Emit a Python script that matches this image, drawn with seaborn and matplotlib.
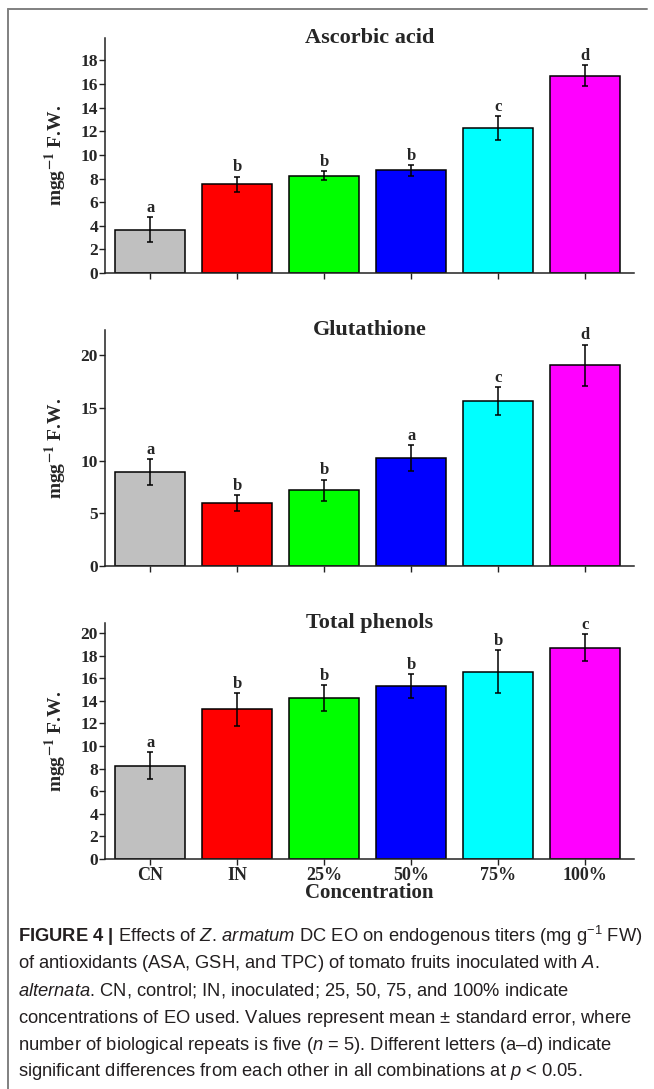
import numpy as np
import pandas as pd
import matplotlib
matplotlib.use("Agg")
import matplotlib.pyplot as plt
import seaborn as sns
from matplotlib import font_manager
from matplotlib.lines import Line2D

# treatments and bar colours
categories = ["CN", "IN", "25%", "50%", "75%", "100%"]
bar_colors = ["#C0C0C0", "#FF0000", "#00FF00", "#0000FF", "#00FFFF", "#FF00FF"]

# Ascorbic acid
asa_mean = [3.65, 7.5, 8.25, 8.7, 12.3, 16.7]
asa_err = [1.05, 0.65, 0.38, 0.45, 1.0, 0.9]
asa_letters = ["a", "b", "b", "b", "c", "d"]

# Glutathione
gsh_mean = [8.9, 5.95, 7.2, 10.25, 15.65, 19.05]
gsh_err = [1.25, 0.75, 1.0, 1.2, 1.3, 1.95]
gsh_letters = ["a", "b", "b", "a", "c", "d"]

# Total phenols
tpc_mean = [8.25, 13.25, 14.25, 15.3, 16.6, 18.7]
tpc_err = [1.2, 1.45, 1.15, 1.05, 1.9, 1.2]
tpc_letters = ["a", "b", "b", "b", "b", "c"]

caption_lines = [
    r"$\mathbf{FIGURE\ 4\ |}$ Effects of $\mathit{Z.\,armatum}$ DC EO on endogenous titers (mg g$^{-1}$ FW)",
    r"of antioxidants (ASA, GSH, and TPC) of tomato fruits inoculated with $\mathit{A.}$",
    r"$\mathit{alternata}$. CN, control; IN, inoculated; 25, 50, 75, and 100% indicate",
    r"concentrations of EO used. Values represent mean $\pm$ standard error, where",
    r"number of biological repeats is five ($\mathit{n}$ = 5). Different letters (a–d) indicate",
    r"significant differences from each other in all combinations at $\mathit{p}$ < 0.05.",
]

sns.set_style("ticks")
plt.rcParams["font.family"] = ["Liberation Serif", "DejaVu Serif"]

avail = {f.name for f in font_manager.fontManager.ttflist}
cap_font = "Liberation Sans Narrow" if "Liberation Sans Narrow" in avail else "Liberation Sans"
plt.rcParams["mathtext.fontset"] = "custom"
plt.rcParams["mathtext.rm"] = cap_font + ":style=normal:weight=normal"
plt.rcParams["mathtext.it"] = cap_font + ":style=italic:weight=normal"
plt.rcParams["mathtext.bf"] = cap_font + ":style=normal:weight=bold"

W, H = 654, 1089
fig = plt.figure(figsize=(W / 100, H / 100), dpi=100)


def box(left, top, right, bottom):
    return [left / W, 1 - bottom / H, (right - left) / W, (bottom - top) / H]


panels = [
    ("Ascorbic acid", asa_mean, asa_err, asa_letters, 19.9, np.arange(0, 19, 2), box(105, 38, 634, 273)),
    ("Glutathione", gsh_mean, gsh_err, gsh_letters, 22.4, np.arange(0, 21, 5), box(105, 330, 634, 566)),
    ("Total phenols", tpc_mean, tpc_err, tpc_letters, 20.9, np.arange(0, 21, 2), box(105, 623, 634, 859)),
]

palette = dict(zip(categories, bar_colors))

for i, (title, means, errs, letters, ymax, yticks, rect) in enumerate(panels):
    ax = fig.add_axes(rect)
    df = pd.DataFrame({"treatment": categories, "value": means})
    sns.barplot(data=df, x="treatment", y="value", hue="treatment", order=categories,
                hue_order=categories, palette=palette, legend=False, errorbar=None,
                width=0.8, edgecolor="black", linewidth=1.1, saturation=1, ax=ax)

    for patch, m, e, lab in zip(ax.patches, means, errs, letters):
        xc = patch.get_x() + patch.get_width() / 2
        ax.errorbar(xc, m, yerr=e, fmt="none", ecolor="black", elinewidth=1.1,
                    capsize=2.5, capthick=1.1)
        ax.annotate(lab, (xc, m + e), xytext=(0, 1), textcoords="offset points",
                    ha="center", va="bottom", fontsize=12, fontweight="bold")

    ax.set_xlim(-0.52, 5.56)
    ax.set_ylim(0, ymax)
    ax.set_yticks(yticks)
    sns.despine(ax=ax)
    for s in ["left", "bottom"]:
        ax.spines[s].set_linewidth(1.1)
        ax.spines[s].set_color("#222222")
    ax.tick_params(axis="both", direction="out", length=4, width=1.0, color="#222222")
    ax.tick_params(axis="y", labelsize=12.5, pad=1)
    for lab in ax.get_yticklabels():
        lab.set_fontweight("bold")
    ax.set_ylabel(r"mgg$^{\mathbf{-1}}$ F.W.", fontsize=14, fontweight="bold",
                  math_fontfamily="stix")
    ax.yaxis.set_label_coords(-0.068, 0.5)
    ax.text(0.5, 1.0, title, transform=ax.transAxes, ha="center", va="center",
            fontsize=16, fontweight="bold")
    if i < 2:
        ax.set_xticklabels([])
        ax.set_xlabel("")
    else:
        ax.tick_params(axis="x", labelsize=13, pad=2)
        for lab in ax.get_xticklabels():
            lab.set_fontweight("bold")
        ax.set_xlabel("Concentration", fontsize=15, fontweight="bold")
        ax.xaxis.set_label_coords(0.5, -0.103)

# outer frame (top and left edges only)
fig.add_artist(Line2D([8 / W, 647 / W], [1 - 9 / H, 1 - 9 / H], color="#808080", lw=1.4))
fig.add_artist(Line2D([8 / W, 8 / W], [0, 1 - 9 / H], color="#808080", lw=1.4))

# caption, sized so the first line spans the same width as the original
cap_y = [936, 963.5, 991, 1018.5, 1046, 1071]
texts = []
for line, y in zip(caption_lines, cap_y):
    t = fig.text(18 / W, 1 - y / H, line, ha="left", va="center", fontsize=12,
                 color="#231f20", family=cap_font, fontweight="normal",
                 math_fontfamily="custom")
    texts.append(t)

fig.canvas.draw()
renderer = fig.canvas.get_renderer()
w0 = texts[0].get_window_extent(renderer).width
scale = 622 / w0
for t in texts:
    t.set_fontsize(12 * scale)

fig.savefig("out.png", dpi=100)
